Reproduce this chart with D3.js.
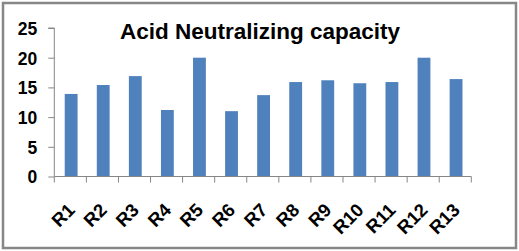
<!DOCTYPE html>
<html><head><meta charset="utf-8">
<script src="https://cdn.jsdelivr.net/npm/d3@7/dist/d3.min.js"></script>
<style>
body{margin:0;background:#fff;}
svg{display:block;font-family:"Liberation Sans",Arial,sans-serif;}
</style></head>
<body>
<script>
const categories = ["R1","R2","R3","R4","R5","R6","R7","R8","R9","R10","R11","R12","R13"];
const values = [13.9,15.4,16.9,11.2,20,11.0,13.7,15.9,16.2,15.7,15.9,20,16.4];
const yTicks = [0,5,10,15,20,25];
const title = "Acid Neutralizing capacity";

(function(){
const W=519,H=251;
const svg=d3.select("body").append("svg").attr("width",W).attr("height",H);
svg.append("rect").attr("x",0).attr("y",0).attr("width",W).attr("height",H).attr("fill","#fff");
svg.append("rect").attr("x",3).attr("y",3).attr("width",513).attr("height",245)
  .attr("fill","none").attr("stroke","#878787").attr("stroke-width",2.5);

const pl=54.3,pr=471.3,pt=28,pb=176.5;
const x=d3.scaleBand().domain(categories).range([pl,pr]).paddingInner(0.6).paddingOuter(0.3);
const y=d3.scaleLinear().domain([0,25]).range([pb,pt]);

svg.append("g").selectAll("rect").data(values).join("rect")
  .attr("x",(d,i)=>x(categories[i])+0.8).attr("width",x.bandwidth())
  .attr("y",d=>y(d)).attr("height",d=>y(0)-y(d)).attr("fill","#4f81bd");

const ya=svg.append("g").attr("transform",`translate(${pl},0)`)
  .call(d3.axisLeft(y).tickValues(yTicks).tickSize(6).tickPadding(11).tickFormat(d3.format("d")));
ya.select(".domain").attr("stroke","#868686").attr("d",`M-6,${pt}H0V${pb}`);
ya.selectAll(".tick line").attr("stroke","#868686");
ya.selectAll(".tick text").attr("fill","#000").style("font-size","17.5px").style("font-weight","bold").attr("dy","0.36em");

const xb=d3.scaleBand().domain(categories).range([pl,pr]);
const xa=svg.append("g").attr("transform",`translate(0,${pb})`)
  .call(d3.axisBottom(xb).tickSize(0).tickFormat(""));
xa.select(".domain").attr("stroke","#868686").attr("d",`M${pl},0H${pr}`);
xa.selectAll(".tick").remove();
const edges=d3.range(categories.length+1).map(i=>pl+i*xb.step());
xa.append("g").selectAll("line").data(edges).join("line")
  .attr("x1",d=>d).attr("x2",d=>d).attr("y1",0).attr("y2",6).attr("stroke","#868686");
xa.append("g").selectAll("text").data(categories).join("text")
  .attr("transform",d=>`translate(${xb(d)+xb.bandwidth()/2-3.5},${25.5}) rotate(-45)`)
  .attr("text-anchor","end").attr("dy","0.7em")
  .style("font-size","18.5px").style("font-weight","bold").attr("fill","#000").text(d=>d);

svg.append("text").attr("x",260).attr("y",39).attr("text-anchor","middle")
  .style("font-size","22.5px").style("font-weight","bold").attr("fill","#000").text(title);
})();
</script>
</body></html>
